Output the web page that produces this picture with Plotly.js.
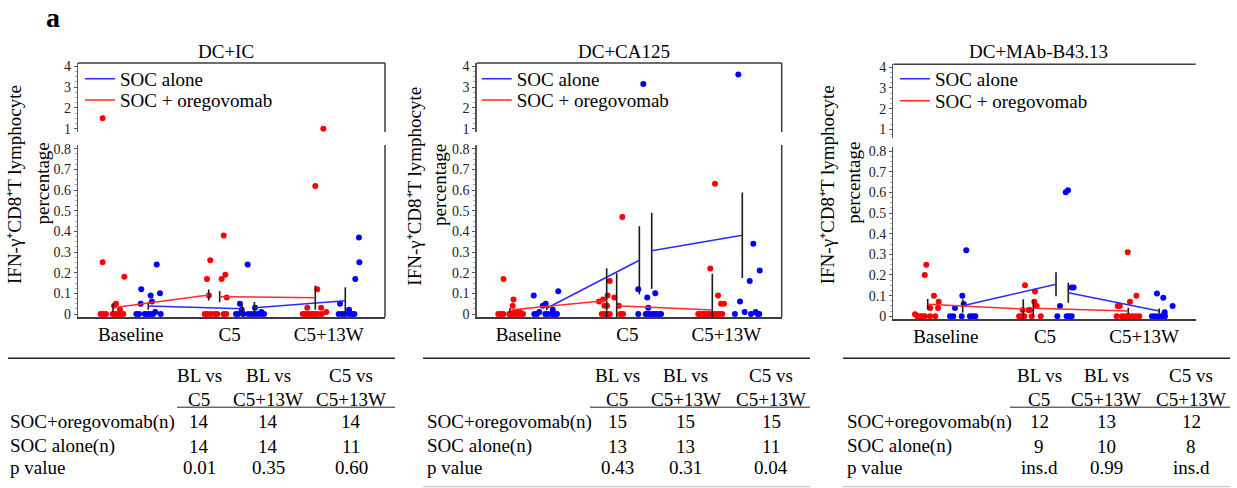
<!DOCTYPE html>
<html>
<head>
<meta charset="utf-8">
<script src="https://cdn.plot.ly/plotly-3.0.1.min.js"></script>
<style>
html,body{margin:0;padding:0;background:#fff;}
#chart{width:1237px;height:488px;}
</style>
</head>
<body>
<div id="chart"></div>
<script>
// ---------------- DATA ----------------
const categories = ['Baseline', 'C5', 'C5+13W'];
const panelTitles = ['DC+IC', 'DC+CA125', 'DC+MAb-B43.13'];
const seriesNames = ['SOC alone', 'SOC + oregovomab'];
const yTitleLines = ['IFN-γ⁺CD8⁺T lymphocyte', 'percentage'];
const lowerTicks = [0, 0.1, 0.2, 0.3, 0.4, 0.5, 0.6, 0.7, 0.8];
const lowerTickText = ['0', '0.1', '0.2', '0.3', '0.4', '0.5', '0.6', '0.7', '0.8'];
const upperTicks = [1, 2, 3, 4];
const upperTickText = ['1', '2', '3', '4'];

// Panel 1: DC+IC (values per time point; jitter = horizontal offset from the category)
const icOregoBL = [1.5, 0.25, 0.18, 0.05, 0.04, 0.02, 0, 0, 0, 0, 0, 0, 0, 0];
const icOregoBLJit = [-0.283, -0.283, -0.064, -0.148, -0.168, -0.108, -0.303, -0.276, -0.249, -0.182, -0.155, -0.128, -0.101, -0.074];
const icSocBL = [0.12, 0.05, 0.09, 0.06, 0.10, 0.24, 0.01, 0, 0, 0, 0, 0, 0, 0];
const icSocBLJit = [0.107, 0.101, 0.202, 0.215, 0.296, 0.263, 0.249, 0.057, 0.084, 0.142, 0.168, 0.195, 0.226, 0.303];
const icOregoC5 = [0.38, 0.26, 0.17, 0.17, 0.19, 0.09, 0.08, 0, 0, 0, 0, 0, 0, 0];
const icOregoC5Jit = [-0.060, -0.196, -0.229, -0.081, -0.044, -0.209, -0.030, -0.252, -0.226, -0.192, -0.151, -0.125, -0.060, -0.034];
const icSocC5 = [0.24, 0.05, 0.02, 0.03, 0.01, 0, 0, 0, 0, 0, 0, 0, 0, 0];
const icSocC5Jit = [0.182, 0.104, 0.122, 0.256, 0.320, 0.064, 0.087, 0.138, 0.188, 0.223, 0.256, 0.289, 0.324, 0.347];
const icOregoW13 = [1.0, 0.62, 0.12, 0.03, 0.03, 0.01, 0, 0, 0, 0, 0, 0, 0, 0];
const icOregoW13Jit = [-0.054, -0.135, -0.115, -0.216, -0.077, -0.024, -0.262, -0.239, -0.216, -0.189, -0.161, -0.135, -0.108, -0.070];
const icSocW13 = [0.37, 0.25, 0.17, 0.05, 0.02, 0, 0, 0, 0, 0, 0];
const icSocW13Jit = [0.306, 0.310, 0.269, 0.115, 0.206, 0.101, 0.135, 0.165, 0.209, 0.240, 0.260];
// means of paired comparisons: [BL, C5] for BL vs C5, then [C5, C5+13W] for C5 vs C5+13W
const icOregoMean = [0.030, 0.092, 0.084, 0.079];
const icOregoSd = [0.020, 0.027, 0.027, 0.058];
const icOregoMeanJit = [-0.178, -0.212, -0.101, -0.135];
const icSocMean = [0.039, 0.026, 0.030, 0.064];
const icSocSd = [0.018, 0.024, 0.028, 0.065];
const icSocMeanJit = [0.178, 0.125, 0.250, 0.168];

// Panel 2: DC+CA125
const caOregoBL = [0.17, 0.07, 0.04, 0.01, 0.01, 0.01, 0, 0, 0, 0, 0, 0, 0, 0, 0];
const caOregoBLJit = [-0.251, -0.150, -0.158, -0.108, -0.085, -0.135, -0.304, -0.276, -0.253, -0.193, -0.168, -0.142, -0.108, -0.074, -0.054];
const caSocBL = [0.09, 0.04, 0.05, 0.11, 0.01, 0.02, 0, 0, 0, 0, 0, 0, 0];
const caSocBLJit = [0.054, 0.145, 0.175, 0.302, 0.110, 0.246, 0.060, 0.087, 0.171, 0.195, 0.236, 0.262, 0.289];
const caOregoC5 = [0.47, 0.16, 0.09, 0.08, 0.06, 0.07, 0.04, 0.04, 0.04, 0, 0, 0, 0, 0, 0];
const caOregoC5Jit = [-0.051, -0.178, -0.199, -0.132, -0.287, -0.246, -0.233, -0.206, -0.085, -0.259, -0.233, -0.206, -0.178, -0.071, -0.044];
const caSocC5 = [3.15, 0.12, 0.08, 0.10, 0.03, 0, 0, 0, 0, 0, 0, 0, 0];
const caSocC5Jit = [0.161, 0.110, 0.201, 0.282, 0.211, 0.110, 0.185, 0.211, 0.239, 0.266, 0.292, 0.320, 0.340];
const caOregoW13 = [0.63, 0.22, 0.09, 0.05, 0.05, 0, 0, 0, 0, 0, 0, 0, 0, 0, 0];
const caOregoW13Jit = [-0.115, -0.162, -0.084, -0.054, -0.024, -0.284, -0.256, -0.229, -0.203, -0.175, -0.148, -0.122, -0.095, -0.068, -0.041];
const caSocW13 = [3.6, 0.34, 0.21, 0.16, 0.06, 0.01, 0.01, 0, 0, 0, 0];
const caSocW13Jit = [0.121, 0.272, 0.337, 0.236, 0.138, 0.185, 0.296, 0.087, 0.249, 0.316, 0.332];
const caOregoMean = [0.019, 0.065, 0.040, 0.019];
const caOregoSd = [0.010, 0.156, 0.157, 0.176];
const caOregoMeanJit = [-0.186, -0.209, -0.108, -0.142];
const caSocMean = [0.028, 0.260, 0.306, 0.381];
const caSocSd = [0.010, 0.165, 0.184, 0.207];
const caSocMeanJit = [0.185, 0.121, 0.246, 0.161];

// Panel 3: DC+MAb-B43.13
const mabOregoBL = [0.25, 0.20, 0.10, 0.04, 0.07, 0.04, 0.01, 0, 0, 0, 0, 0, 0];
const mabOregoBLJit = [-0.197, -0.213, -0.120, -0.157, -0.072, -0.079, -0.311, -0.288, -0.261, -0.233, -0.213, -0.160, -0.106];
const mabSocBL = [0.32, 0.10, 0.06, 0.04, 0, 0, 0, 0, 0, 0];
const mabSocBLJit = [0.206, 0.166, 0.180, 0.092, 0.042, 0.075, 0.160, 0.243, 0.271, 0.297];
const mabOregoC5 = [0.15, 0.12, 0.05, 0.07, 0.03, 0.03, 0.03, 0, 0, 0, 0, 0];
const mabOregoC5Jit = [-0.202, -0.101, -0.084, -0.108, -0.225, -0.165, -0.151, -0.262, -0.235, -0.209, -0.134, -0.043];
const mabSocC5 = [0.60, 0.61, 0.14, 0.14, 0.05, 0, 0, 0, 0];
const mabSocC5Jit = [0.209, 0.232, 0.269, 0.289, 0.151, 0.124, 0.219, 0.245, 0.269];
const mabOregoW13 = [0.31, 0.10, 0.07, 0.05, 0.05, 0, 0, 0, 0, 0, 0, 0, 0];
const mabOregoW13Jit = [-0.165, -0.078, -0.143, -0.267, -0.246, -0.277, -0.224, -0.193, -0.170, -0.150, -0.115, -0.082, -0.049];
const mabSocW13 = [0.11, 0.09, 0.05, 0.02, 0.01, 0, 0, 0, 0, 0];
const mabSocW13Jit = [0.129, 0.193, 0.287, 0.207, 0.203, 0.079, 0.110, 0.143, 0.177, 0.210];
const mabOregoMean = [0.058, 0.035, 0.039, 0.026];
const mabOregoSd = [0.026, 0.047, 0.040, 0.015];
const mabOregoMeanJit = [-0.183, -0.219, -0.118, -0.160];
const mabSocMean = [0.051, 0.155, 0.114, 0.026];
const mabSocSd = [0.032, 0.058, 0.048, 0.012];
const mabSocMeanJit = [0.170, 0.111, 0.235, 0.152];

// Tables
const tableColHeads = [['BL vs', 'C5'], ['BL vs', 'C5+13W'], ['C5 vs', 'C5+13W']];
const tableRowLabels = ['SOC+oregovomab(n)', 'SOC alone(n)', 'p value'];
const icTable = [['14', '14', '14'], ['14', '14', '11'], ['0.01', '0.35', '0.60']];
const caTable = [['15', '15', '15'], ['13', '13', '11'], ['0.43', '0.31', '0.04']];
const mabTable = [['12', '13', '12'], ['9', '10', '8'], ['ins.d', '0.99', 'ins.d']];

// ---------------- BUILD ----------------
const panels = [
  {title: panelTitles[0], table: icTable,
   soc: [icSocBL, icSocC5, icSocW13], socJit: [icSocBLJit, icSocC5Jit, icSocW13Jit],
   orego: [icOregoBL, icOregoC5, icOregoW13], oregoJit: [icOregoBLJit, icOregoC5Jit, icOregoW13Jit],
   socMean: icSocMean, socSd: icSocSd, socMeanJit: icSocMeanJit,
   oregoMean: icOregoMean, oregoSd: icOregoSd, oregoMeanJit: icOregoMeanJit},
  {title: panelTitles[1], table: caTable,
   soc: [caSocBL, caSocC5, caSocW13], socJit: [caSocBLJit, caSocC5Jit, caSocW13Jit],
   orego: [caOregoBL, caOregoC5, caOregoW13], oregoJit: [caOregoBLJit, caOregoC5Jit, caOregoW13Jit],
   socMean: caSocMean, socSd: caSocSd, socMeanJit: caSocMeanJit,
   oregoMean: caOregoMean, oregoSd: caOregoSd, oregoMeanJit: caOregoMeanJit},
  {title: panelTitles[2], table: mabTable,
   soc: [mabSocBL, mabSocC5, mabSocW13], socJit: [mabSocBLJit, mabSocC5Jit, mabSocW13Jit],
   orego: [mabOregoBL, mabOregoC5, mabOregoW13], oregoJit: [mabOregoBLJit, mabOregoC5Jit, mabOregoW13Jit],
   socMean: mabSocMean, socSd: mabSocSd, socMeanJit: mabSocMeanJit,
   oregoMean: mabOregoMean, oregoSd: mabOregoSd, oregoMeanJit: mabOregoMeanJit}
];
const segCat = [0, 1, 1, 2];
const BREAK = 0.85;

// geometry in pixels (style)
const W = 1237, H = 488;
const fx = p => p / W;
const fy = p => 1 - p / H;
const FONT = '"Liberation Serif", "Times New Roman", Times, serif';
const BLUE = '#0000ff', RED = '#ff0000';
const BLUE_L = '#2a2aff', RED_L = '#ff2a2a';
const FRAME = '#3c3c3c';
const geom = [
  {x: [78, 385], xr: [-0.532, 2.569], lo: [145, 317], lor: [-0.01452, 0.818], up: [63, 132], upr: [0.841, 4.159], right: true,
   titleX: 225.7, yt1: [15, 185], yt2: [42, 183.5], legX: 80, legY: [78.7, 100],
   tab: {lab: 8.3, cols: [199, 268.3, 351], top: [8, 395], head: [177, 395], bottom: null}},
  {x: [476.7, 781.7], xr: [-0.522, 2.559], lo: [145, 317], lor: [-0.01452, 0.818], up: [63, 132], upr: [0.841, 4.159], right: true,
   titleX: 624, yt1: [415, 186.7], yt2: [440, 185], legX: 476.7, legY: [78.7, 100],
   tab: {lab: 425, cols: [617.3, 685.5, 771], top: [423, 810], head: [590, 810], bottom: [423, 810]}},
  {x: [893.3, 1195.7], xr: [-0.530, 2.520], lo: [147, 319], lor: [-0.013, 0.8195], up: [64.3, 138], upr: [0.579, 4.145], right: false,
   titleX: 1038.3, yt1: [828.3, 185], yt2: [853.3, 182.5], legX: 895, legY: [78.7, 100.7],
   tab: {lab: 845, cols: [1039.2, 1106, 1191], top: [843, 1230], head: [1010, 1230], bottom: [843, 1230]}}
];

const traces = [];
const layout = {
  width: W, height: H, margin: {l: 0, r: 0, t: 0, b: 0},
  paper_bgcolor: '#fff', plot_bgcolor: 'rgba(0,0,0,0)',
  font: {family: FONT, color: '#000', size: 19},
  showlegend: true, annotations: [], shapes: []
};

const ann = (text, px, py, opts) => Object.assign({
  text, x: fx(px), y: fy(py), xref: 'paper', yref: 'paper', showarrow: false,
  xanchor: 'center', yanchor: 'middle', font: {family: FONT, size: 19, color: '#000'}
}, opts || {});
const hline = (x0, x1, y, color, width) => ({type: 'line', xref: 'paper', yref: 'paper',
  x0: fx(x0), x1: fx(x1), y0: fy(y), y1: fy(y), line: {color, width}});
const vline = (x, y0, y1, color, width) => ({type: 'line', xref: 'paper', yref: 'paper',
  x0: fx(x), x1: fx(x), y0: fy(y0), y1: fy(y1), line: {color, width}});

panels.forEach((p, i) => {
  const g = geom[i];
  const xid = i ? 'x' + (i + 1) : 'x';
  const yLo = i ? 'y' + (2 * i + 1) : 'y';
  const yUp = 'y' + (2 * i + 2);

  // individual points
  [['soc', BLUE], ['orego', RED]].forEach(([arm, col]) => {
    const lx = [], ly = [], ux = [], uy = [];
    p[arm].forEach((vals, t) => vals.forEach((v, k) => {
      const xv = t + p[arm + 'Jit'][t][k];
      if (v > BREAK) { ux.push(xv); uy.push(v); } else { lx.push(xv); ly.push(v); }
    }));
    traces.push({type: 'scatter', mode: 'markers', x: lx, y: ly, xaxis: xid, yaxis: yLo,
      marker: {color: col, size: 6}, showlegend: false, cliponaxis: false, hoverinfo: 'skip'});
    traces.push({type: 'scatter', mode: 'markers', x: ux, y: uy, xaxis: xid, yaxis: yUp,
      marker: {color: col, size: 6}, showlegend: false, cliponaxis: false, hoverinfo: 'skip'});
  });

  // mean lines with error bars
  [['soc', BLUE_L, seriesNames[0], 2 * i + 1], ['orego', RED_L, seriesNames[1], 2 * i + 2]].forEach(([arm, col, name, li]) => {
    const m = p[arm + 'Mean'], e = p[arm + 'Sd'], j = p[arm + 'MeanJit'];
    const legId = li === 1 ? 'legend' : 'legend' + li;
    [0, 2].forEach((s, si) => {
      const x = [segCat[s] + j[s], segCat[s + 1] + j[s + 1]];
      const y = [m[s], m[s + 1]];
      const err = [e[s], e[s + 1]];
      const errMinus = err.map((v, k) => Math.min(v, y[k] - g.lor[0]));
      traces.push({type: 'scatter', mode: 'lines', x, y, xaxis: xid, yaxis: yLo, name,
        line: {color: col, width: 1.5},
        error_y: {type: 'data', symmetric: false, array: err, arrayminus: errMinus, color: '#1a1a1a', thickness: 1.6, width: 0},
        showlegend: si === 0, legend: legId, hoverinfo: 'skip'});
    });
    layout[legId] = {x: fx(g.legX), xanchor: 'left', y: fy(g.legY[li % 2 === 1 ? 0 : 1] - 18.85), yanchor: 'top',
      bgcolor: 'rgba(0,0,0,0)', borderwidth: 0, font: {family: FONT, size: 19, color: '#000'}};
  });

  // axes
  layout[i ? 'xaxis' + (i + 1) : 'xaxis'] = {
    domain: [fx(g.x[0]), fx(g.x[1])], range: g.xr, anchor: yLo,
    tickmode: 'array', tickvals: [0, 1, 2], ticktext: categories,
    showline: true, linecolor: FRAME, linewidth: 1.5, ticks: '', showgrid: false, zeroline: false,
    tickfont: {family: FONT, size: 19, color: '#000'}, fixedrange: true
  };
  layout[i ? 'yaxis' + (2 * i + 1) : 'yaxis'] = {
    domain: [fy(g.lo[1]), fy(g.lo[0])], range: g.lor, anchor: xid,
    tickmode: 'array', tickvals: lowerTicks, ticktext: lowerTickText,
    showline: true, linecolor: '#555', linewidth: 1.3, ticks: 'outside', ticklen: 3, tickcolor: '#555', tickwidth: 1,
    minor: {ticks: 'outside', ticklen: 2, dtick: 0.025, tickcolor: '#aaa', tickwidth: 1},
    showgrid: false, zeroline: false, tickfont: {family: FONT, size: 14, color: '#222'}, fixedrange: true
  };
  layout['yaxis' + (2 * i + 2)] = {
    domain: [fy(g.up[1]), fy(g.up[0])], range: g.upr, anchor: xid,
    tickmode: 'array', tickvals: upperTicks, ticktext: upperTickText,
    showline: true, linecolor: '#555', linewidth: 1.3, ticks: 'outside', ticklen: 3, tickcolor: '#555', tickwidth: 1,
    minor: {ticks: 'outside', ticklen: 2, dtick: 0.25, tickcolor: '#aaa', tickwidth: 1},
    showgrid: false, zeroline: false, tickfont: {family: FONT, size: 14, color: '#222'}, fixedrange: true
  };

  // frame (top and right)
  layout.shapes.push(hline(g.x[0], g.x[1], g.up[0], FRAME, 1.5));
  if (g.right) {
    layout.shapes.push(vline(g.x[1], g.up[0], g.up[1], FRAME, 1.5));
    layout.shapes.push(vline(g.x[1], g.lo[0], g.lo[1], FRAME, 1.5));
  }

  // titles
  layout.annotations.push(ann(p.title, g.titleX, 51.7));
  layout.annotations.push(ann(yTitleLines[0], g.yt1[0], g.yt1[1], {textangle: -90}));
  layout.annotations.push(ann(yTitleLines[1], g.yt2[0], g.yt2[1], {textangle: -90}));

  // table
  const t = g.tab;
  layout.shapes.push(hline(t.top[0], t.top[1], 358.3, '#222', 1.5));
  layout.shapes.push(hline(t.head[0], t.head[1], 407.2, '#222', 1));
  if (t.bottom) layout.shapes.push(hline(t.bottom[0], t.bottom[1], 486.7, '#bbb', 1));
  tableColHeads.forEach((h, c) => {
    layout.annotations.push(ann(h[0], t.cols[c], 375.7));
    layout.annotations.push(ann(h[1], t.cols[c], 399.3));
  });
  const rowY = [421.7, 446, 467.7];
  tableRowLabels.forEach((lab, r) => {
    layout.annotations.push(ann(lab, t.lab, rowY[r], {xanchor: 'left'}));
    p.table[r].forEach((v, c) => layout.annotations.push(ann(v, t.cols[c], rowY[r])));
  });
});

layout.annotations.push(ann('a', 53, 18, {font: {family: FONT, size: 28, color: '#000', weight: 'bold'}}));

Plotly.newPlot('chart', traces, layout, {displayModeBar: false, staticPlot: true});
</script>
</body>
</html>
